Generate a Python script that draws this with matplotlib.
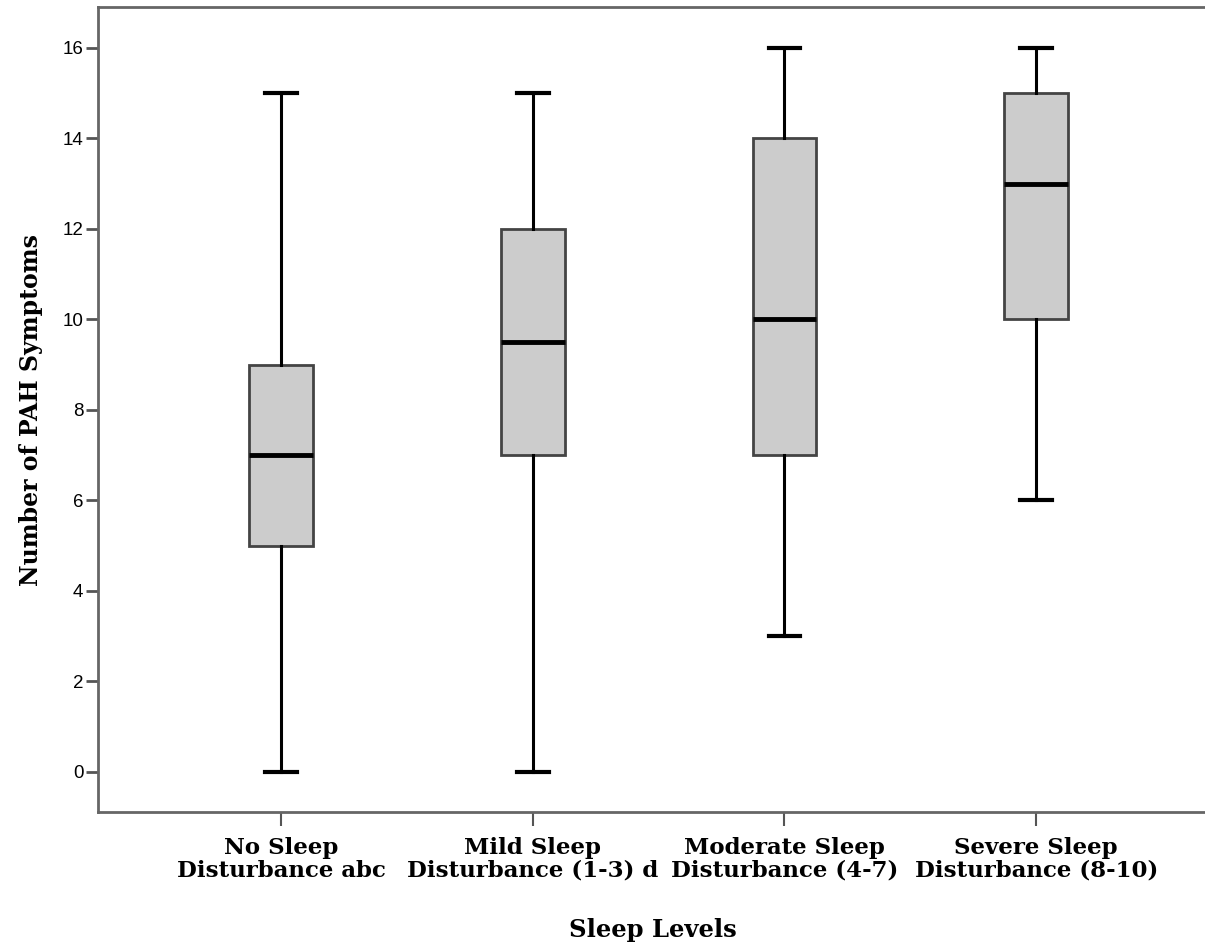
import matplotlib
matplotlib.use("Agg")
import matplotlib.pyplot as plt

# box summary per sleep level
labels = ["No Sleep\nDisturbance abc", "Mild Sleep\nDisturbance (1-3) d",
          "Moderate Sleep\nDisturbance (4-7)", "Severe Sleep\nDisturbance (8-10)"]
whis_lo = [0, 0, 3, 6]
q1 = [5, 7, 7, 10]
medians = [7, 9.5, 10, 13]
q3 = [9, 12, 14, 15]
whis_hi = [15, 15, 16, 16]
yticks = [0, 2, 4, 6, 8, 10, 12, 14, 16]

stats = []
for i in range(len(labels)):
    stats.append({"whislo": whis_lo[i], "q1": q1[i], "med": medians[i],
                  "q3": q3[i], "whishi": whis_hi[i], "fliers": []})

fig = plt.figure(figsize=(12.05, 9.44), dpi=100)
ax = fig.add_axes([98/1205, 1 - 812/944, 1 - 98/1205 + 0.002, (812 - 7)/944])

ax.bxp(stats, positions=[1, 2, 3, 4], widths=0.254, patch_artist=True,
       showfliers=False,
       boxprops=dict(facecolor="#cccccc", edgecolor="#444444", linewidth=2),
       medianprops=dict(color="black", linewidth=3.5),
       whiskerprops=dict(color="black", linewidth=2.2),
       capprops=dict(color="black", linewidth=3))

serif = "DejaVu Serif"
ax.set_xlim(0.273, 4.68)
ax.set_ylim(-0.884, 16.906)
ax.set_yticks(yticks)
ax.set_xticks([1, 2, 3, 4])
ax.set_xticklabels(labels, fontfamily=serif, fontweight="bold",
                   fontsize=16.5, linespacing=1.05)
for t in ax.get_yticklabels():
    t.set_fontfamily("Liberation Sans")
    t.set_fontsize(13.5)

ax.tick_params(axis="y", length=9, width=2, color="#555555", pad=1.5)
ax.tick_params(axis="x", length=10, width=1.5, color="#555555", pad=8)

for s in ["left", "bottom", "top"]:
    ax.spines[s].set_color("#666666")
    ax.spines[s].set_linewidth(2)
ax.spines["right"].set_visible(False)

ax.set_ylabel("Number of PAH Symptoms", fontfamily=serif,
              fontweight="bold", fontsize=17, labelpad=14)
ax.set_xlabel("Sleep Levels", fontfamily=serif,
              fontweight="bold", fontsize=17.5, labelpad=26)

fig.savefig("out.png", dpi=100)
